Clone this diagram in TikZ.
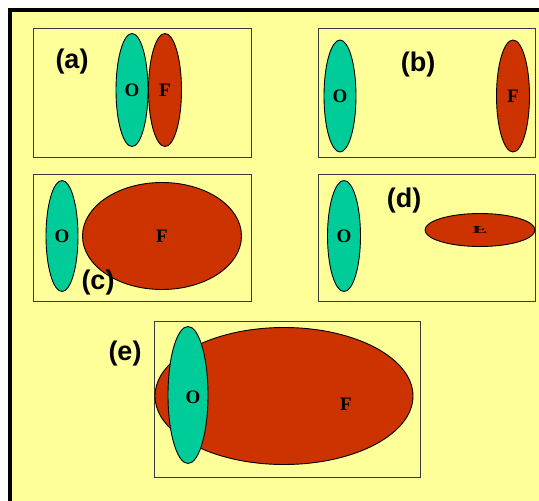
\documentclass[tikz,border=0pt]{standalone}
\usepackage{fontspec}
\setmainfont{Liberation Serif}
\newfontfamily\tagfont{Liberation Sans}
\usetikzlibrary{shapes.geometric}
\definecolor{paper}{HTML}{FFFF99}
\definecolor{ogreen}{HTML}{00CC99}
\definecolor{fred}{HTML}{CC3300}
\definecolor{boxgray}{HTML}{3A3A3A}
\tikzset{
  panel/.style={draw=boxgray,line width=1pt},
  blob/.style={ellipse,draw=black,line width=0.9pt,inner sep=0pt,
    font=\fontsize{19}{19}\selectfont\bfseries},
  oblob/.style={blob,fill=ogreen},
  fblob/.style={blob,fill=fred},
  tag/.style={font=\tagfont\fontsize{27}{29}\selectfont\bfseries}
}
\begin{document}
\begin{tikzpicture}[x=1pt,y=-1pt]
  \useasboundingbox (0,0) rectangle (539,501);
  \begin{scope}
    \clip (0,0) rectangle (539,501);
    \fill[white] (0,0) rectangle (539,501);
    \filldraw[fill=paper,line width=4pt] (9.5,9.5) rectangle (560,520);
  \end{scope}
  \foreach \x/\y/\w/\h in {33/28/218/129,318/28/217/129,33/174/218/127,318/174/217/127,154/321/266/156}
    {\draw[panel] (\x,\y) rectangle ++(\w,\h);}
  % (a)
  \node[tag] (ta) at (72,62) {(a)};
  \node[oblob,minimum width=32,minimum height=113] (oa) at (132,90) {O};
  \node[fblob,minimum width=33,minimum height=113] (fa) at (165,90) {F};
  % (b)
  \node[tag] (tb) at (418,65) {(b)};
  \node[oblob,minimum width=32,minimum height=112] (ob) at (340,96) {O};
  \node[fblob,minimum width=33,minimum height=112] (fb) at (513,96) {F};
  % (c)
  \node[oblob,minimum width=32,minimum height=111] (oc) at (62,236) {O};
  \node[fblob,minimum width=159,minimum height=107] (fc) at (162,236) {F};
  \node[tag] (tc) at (98,283) {(c)};
  % (d)
  \node[tag] (td) at (404,201) {(d)};
  \node[oblob,minimum width=33,minimum height=111] (od) at (344,236) {O};
  \node[fblob,minimum width=110,minimum height=33] (fd) at (480,230) {\scalebox{1.3}[-0.55]{F}};
  % (e)
  \node[tag] (te) at (125,354) {(e)};
  \node[fblob,minimum width=258,minimum height=137] (fe) at (284,396) {};
  \node[oblob,minimum width=40,minimum height=137] (oe) at (188,395) {};
  \node[font=\fontsize{19}{19}\selectfont\bfseries] (le) at (193,397) {O};
  \node[font=\fontsize{19}{19}\selectfont\bfseries] (lf) at (346,404) {F};
\end{tikzpicture}
\end{document}
